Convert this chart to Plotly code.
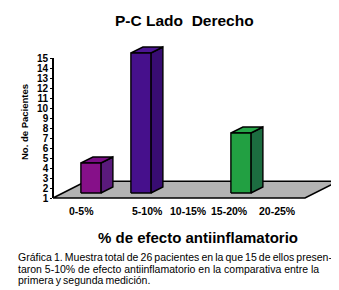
import plotly.graph_objects as go

# ---- data ----
categories = ["0-5%", "5-10%", "10-15%", "15-20%", "20-25%"]
patients = [4, 15, 0, 7, 0]
y_ticks = list(range(1, 16))
title_text = "P-C Lado\u00a0 Derecho"
x_title = "% de efecto antiinflamatorio"
y_title = "No. de Pacientes"
caption_lines = [
    "Gráfica 1. Muestra total de 26 pacientes en la que 15 de ellos presen-",
    "taron 5-10% de efecto antiinflamatorio en la comparativa entre la",
    "primera y segunda medición.",
]

# ---- styling / geometry ----
W, H = 339, 290
BASE = 1.0                      # floor level (axis minimum)
FLOOR_DEPTH = (0.66, 1.67)      # depth vector of floor in data units
BAR_OFF = (0.198, 0.5)          # bar front face offset from floor front
BAR_DEPTH = (0.24, 0.6)         # bar depth vector
BAR_HALF = 0.2
FLOOR_X = (-0.56, len(categories) - 1 + 0.48)
colors = {
    "0-5%": ("#861089", "#5a1a7c", "#7a0e86"),
    "5-10%": ("#46108c", "#380c72", "#4d1694"),
    "15-20%": ("#22a042", "#1c6d40", "#27a84a"),
}
default_col = ("#888888", "#666666", "#999999")
FONT = "Liberation Sans"

fig = go.Figure()

def poly(xs, ys, fill, lw=1.4):
    fig.add_trace(go.Scatter(
        x=xs + [xs[0]], y=ys + [ys[0]], mode="lines", fill="toself",
        fillcolor=fill, line=dict(color="black", width=lw),
        hoverinfo="skip", showlegend=False, xaxis="x", yaxis="y"))

# floor
fx0, fx1 = FLOOR_X
dx, dy = FLOOR_DEPTH
poly([fx0, fx1, fx1 + dx, fx0 + dx], [BASE, BASE, BASE + dy, BASE + dy], "#b3b3b3", 1.6)

# bars
for i, (cat, v) in enumerate(zip(categories, patients)):
    if v <= BASE:
        continue
    front, side, top = colors.get(cat, default_col)
    xl = i + BAR_OFF[0] - BAR_HALF
    xr = i + BAR_OFF[0] + BAR_HALF
    b = BASE + BAR_OFF[1]
    t = v + BAR_OFF[1]
    bx, by = BAR_DEPTH
    poly([xr, xr + bx, xr + bx, xr], [b, b + by, t + by, t], side)
    poly([xl, xr, xr + bx, xl + bx], [t, t, t + by, t + by], top)
    poly([xl, xr, xr, xl], [b, b, t, t], front)

# invisible trace to carry the value axis
fig.add_trace(go.Scatter(x=[0], y=[y_ticks[0]], mode="markers", opacity=0,
                         hoverinfo="skip", showlegend=False, xaxis="x2", yaxis="y2"))

# axis pixel mapping
px_cat0, px_per_cat = 73.0, 50.0
py_base, py_per_unit = 190.0, 10.0
x_range = [(0 - px_cat0) / px_per_cat, (W - px_cat0) / px_per_cat]
y_range = [BASE - (H - py_base) / py_per_unit, BASE + py_base / py_per_unit]

y2_bottom = (H - py_base) / H
y2_top = (H - (py_base - py_per_unit * (y_ticks[-1] - y_ticks[0]))) / H

fig.update_layout(
    width=W, height=H,
    margin=dict(l=0, r=0, t=0, b=0, pad=0, autoexpand=False),
    paper_bgcolor="white", plot_bgcolor="rgba(0,0,0,0)",
    xaxis=dict(range=x_range, visible=False, fixedrange=True),
    yaxis=dict(range=y_range, visible=False, fixedrange=True),
    xaxis2=dict(domain=[0, 1], anchor="y2", visible=False, range=[0, 1]),
    yaxis2=dict(domain=[y2_bottom, y2_top], range=[y_ticks[0], y_ticks[-1]],
                anchor="free", position=45 / W,
                tickvals=y_ticks, ticktext=[str(t) for t in y_ticks],
                showline=True, linecolor="black", linewidth=1.6,
                ticks="outside", ticklen=2, tickwidth=1, tickcolor="black",
                showgrid=False, zeroline=False,
                tickfont=dict(family=FONT, size=10, color="black", weight="bold")),
    showlegend=False,
)

ann = []
ann.append(dict(text="<b>" + title_text + "</b>", x=176 / W, y=1 - 13 / H,
                xref="paper", yref="paper", showarrow=False,
                font=dict(family=FONT, size=15.5, color="black"),
                xanchor="center", yanchor="middle"))
ann.append(dict(text="<b>" + y_title + "</b>", x=16 / W, y=1 - 114 / H,
                xref="paper", yref="paper", showarrow=False, textangle=-90,
                font=dict(family=FONT, size=9.5, color="black"),
                xanchor="center", yanchor="middle"))
label_shift = [0, 16, 7, -2, -4]
for i, cat in enumerate(categories):
    ann.append(dict(text="<b>" + cat + "</b>", x=i, y=1 - 203 / H,
                    xref="x", yref="paper", showarrow=False, xshift=label_shift[i],
                    font=dict(family=FONT, size=10.5, color="black"),
                    xanchor="center", yanchor="middle"))
ann.append(dict(text="<b>" + x_title + "</b>", x=190 / W, y=1 - 229 / H,
                xref="paper", yref="paper", showarrow=False,
                font=dict(family=FONT, size=15, color="black"),
                xanchor="center", yanchor="middle"))
cap_y = [249, 261, 272]
for line, yy in zip(caption_lines, cap_y):
    txt = line.replace(" ", "\u2009") if line is not caption_lines[1] else line
    ann.append(dict(text=txt, x=8 / W, y=1 - yy / H,
                    xref="paper", yref="paper", showarrow=False,
                    font=dict(family=FONT, size=10.5, color="black"),
                    xanchor="left", yanchor="middle"))
fig.update_layout(annotations=ann)

fig.write_html("out.html")
